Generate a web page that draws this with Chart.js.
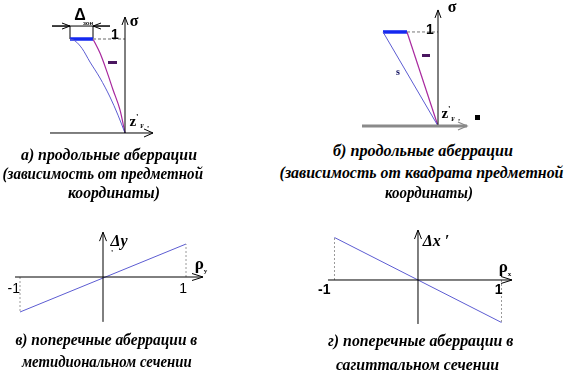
<!DOCTYPE html>
<html><head><meta charset="utf-8">
<script src="https://cdn.jsdelivr.net/npm/chart.js@4.4.1/dist/chart.umd.min.js"></script>
<style>
html,body{margin:0;padding:0;background:#fff}
#wrap{position:relative;width:571px;height:371px;overflow:hidden;background:#fff}
canvas{position:absolute}
.lb{position:absolute;transform:translate(-50%,-50%);white-space:nowrap;line-height:1;color:#000}
.cap{position:absolute;white-space:nowrap;line-height:1;font-style:italic;font-weight:bold;font-size:16px;font-family:"Liberation Serif","Times New Roman","DejaVu Serif",serif;color:#000;transform-origin:50% 50%}
.ser{font-family:"Liberation Serif","Times New Roman","DejaVu Serif",serif;font-weight:bold}
.san{font-family:"Liberation Sans",Arial,"DejaVu Sans",sans-serif}
.mark{position:absolute;background:#4a1660}
</style></head><body><div id="wrap">
<canvas id="cA" width="130" height="140" style="left:40px;top:0px"></canvas>
<canvas id="cB" width="130" height="135" style="left:350px;top:0px"></canvas>
<canvas id="cC" width="230" height="110" style="left:0px;top:222px"></canvas>
<canvas id="cD" width="240" height="110" style="left:300px;top:222px"></canvas>

<!-- panel а labels -->
<div class="lb san" style="left:80px;top:15px;font-size:16px;font-weight:bold">Δ</div>
<div class="lb san" style="left:88px;top:23px;font-size:6px;font-weight:bold">зон</div>
<div class="lb ser" style="left:134px;top:21px;font-size:16px">σ</div>
<div class="mark" style="left:108px;top:61px;width:9px;height:3px"></div>
<div class="lb ser" style="left:134px;top:121px;font-size:15px">z<span style="font-size:9px;vertical-align:6px">'</span></div>
<div class="lb ser" style="left:142px;top:126px;font-size:6px">F</div>
<div class="lb ser" style="left:148px;top:125px;font-size:7px">,</div>

<!-- panel б labels -->
<div class="lb ser" style="left:452px;top:7px;font-size:16px">σ</div>
<div class="mark" style="left:422px;top:54px;width:8px;height:3px"></div>
<div class="lb ser" style="left:398px;top:72px;font-size:10px;color:#101060">s</div>
<div class="lb ser" style="left:446px;top:113px;font-size:15px">z<span style="font-size:9px;vertical-align:6px">'</span></div>
<div class="lb ser" style="left:453px;top:119px;font-size:6px">F</div>
<div class="lb ser" style="left:459px;top:118px;font-size:7px">,</div>
<div class="mark" style="left:475px;top:115px;width:5px;height:5px;background:#000"></div>

<!-- panel в labels -->
<div class="lb ser" style="left:119px;top:241px;font-size:16px;font-style:italic">Δy</div>
<div class="lb ser" style="left:112px;top:254px;font-size:8px">'</div>
<div class="lb ser" style="left:201px;top:265px;font-size:17px">ρ<span style="font-size:7px;vertical-align:-4px">y</span></div>

<!-- panel г labels -->
<div class="lb ser" style="left:436px;top:241px;font-size:16px;font-style:italic">Δx ′</div>
<div class="lb ser" style="left:505px;top:268px;font-size:17px">ρ<span style="font-size:7px;vertical-align:-4px">x</span></div>
</div>
<script>
// ---------- DATA ----------
// Panel а: longitudinal aberration vs object coordinate (σ vs z'F)
const sigmaBlueA   = [1, 0.98, 0.90, 0.755, 0.585, 0.383, 0.19, 0];
const zBlueA       = [-0.55, -0.50, -0.43, -0.35, -0.25, -0.15, -0.07, 0];
const sigmaMagA    = [1, 0.85, 0.65, 0.46, 0.245, 0];
const zMagA        = [-0.32, -0.25, -0.18, -0.12, -0.05, 0];
// Panel б: longitudinal aberration vs squared object coordinate
const sigmaB       = [1, 0];
const zBlueB       = [-0.55, 0];
const zMagB        = [-0.31, 0];
// Panel в: transverse aberration, meridional section
const rhoC         = [-1, 1];
const deltaYC      = [-1.03, 0.97];
// Panel г: transverse aberration, sagittal section
const rhoD         = [-1, 1];
const deltaXD      = [1, -1];
// Tick labels
const rhoTicks     = [-1, 1];
const rhoTickLabels= ['-1', '1'];
const sigmaTicks   = [1];
const sigmaTickLabels = ['1'];
// Axis extents (data units)
const axisXA = [-0.75, 0.28], axisYA = [0, 1.234];
const axisXB = [-0.76, 0.29], axisYB = [0, 1.234];
const axisXC = [-1.06, 1.205], axisYC = [-1.32, 1.32];
const axisXD = [-1.078, 1.126], axisYD = [-1.035, 1.176];
const bracketY = 1.138, bracketX = [-0.73, -0.15];

// ---------- helpers ----------
const pts = (xs, ys) => xs.map((x, i) => ({x, y: ys[i]}));
const line = (xs, ys, color, width, extra) => Object.assign({
  data: pts(xs, ys), showLine: true, borderColor: color, backgroundColor: color,
  borderWidth: width, pointRadius: 0, fill: false, tension: 0
}, extra || {});

const chevrons = {
  id: 'chevrons',
  afterDatasetsDraw(chart) {
    const ctx = chart.ctx;
    chart.data.datasets.forEach((ds, i) => {
      if (!ds.arrowEnd) return;
      const el = chart.getDatasetMeta(i).data;
      const a = el[el.length - 2], b = el[el.length - 1];
      const ang = Math.atan2(b.y - a.y, b.x - a.x);
      const L = ds.arrowLen || 9, W = ds.arrowHalf || 4;
      const c = Math.cos(ang), s = Math.sin(ang);
      ctx.save();
      ctx.strokeStyle = ds.arrowColor || ds.borderColor;
      ctx.lineWidth = ds.arrowWidth || 1;
      ctx.beginPath();
      ctx.moveTo(b.x - L * c - W * s, b.y - L * s + W * c);
      ctx.lineTo(b.x, b.y);
      ctx.lineTo(b.x - L * c + W * s, b.y - L * s - W * c);
      ctx.stroke();
      ctx.restore();
    });
  }
};

const tickText = {
  id: 'tickText',
  afterDatasetsDraw(chart, args, o) {
    if (!o || !o.values) return;
    const ctx = chart.ctx, xs = chart.scales.x, ys = chart.scales.y;
    ctx.save();
    ctx.font = o.font; ctx.fillStyle = '#000';
    ctx.textAlign = o.align || 'right'; ctx.textBaseline = 'middle';
    o.values.forEach((v, i) => {
      const dx = Array.isArray(o.dx) ? o.dx[i] : o.dx;
      let px, py;
      if (o.axis === 'x') { px = xs.getPixelForValue(v) + dx; py = ys.getPixelForValue(0) + o.dy; }
      else { px = xs.getPixelForValue(0) + dx; py = ys.getPixelForValue(v) + o.dy; }
      ctx.fillText(o.labels[i], px, py);
    });
    ctx.restore();
  }
};

function make(id, xr, yr, datasets, ticks) {
  return new Chart(document.getElementById(id), {
    type: 'scatter',
    data: { datasets },
    plugins: [chevrons, tickText],
    options: {
      responsive: false, animation: false, events: [],
      layout: { padding: 0 },
      plugins: { legend: { display: false }, tooltip: { enabled: false }, tickText: ticks || {} },
      scales: {
        x: { type: 'linear', min: xr[0], max: xr[1], display: false },
        y: { type: 'linear', min: yr[0], max: yr[1], display: false }
      }
    }
  });
}

const BLUE = '#5c5cd2', MAG = '#a8289e', BAR = '#1428f0', DASH = '#9a9a9a';
const SANS = '"Liberation Sans", Arial, "DejaVu Sans", sans-serif';

// Panel а
make('cA', [-0.85, 0.45], [-0.0745, 1.415], [
  line(axisXA, [0, 0], '#000', 1, { arrowEnd: true }),
  line([0, 0], axisYA, '#000', 1, { arrowEnd: true, arrowLen: 8, arrowHalf: 3 }),
  line([zMagA[0], 0], [1, 1], DASH, 1.6, { borderDash: [3, 2] }),
  line(zBlueA, sigmaBlueA, BLUE, 1, { cubicInterpolationMode: 'monotone' }),
  line(zMagA, sigmaMagA, MAG, 1.2, { cubicInterpolationMode: 'monotone' }),
  line([zBlueA[0], zMagA[0]], [1, 1], BAR, 3.5),
  line(bracketX, [bracketY, bracketY], '#000', 1),
  line([zBlueA[0], zBlueA[0]], [1, bracketY], '#000', 1),
  line([zMagA[0], zMagA[0]], [1, bracketY], '#000', 1),
  line([bracketX[0], zBlueA[0]], [bracketY, bracketY], '#000', 1, { arrowEnd: true, arrowLen: 8, arrowHalf: 3 }),
  line([bracketX[1], zMagA[0]], [bracketY, bracketY], '#000', 1, { arrowEnd: true, arrowLen: 8, arrowHalf: 3 })
], { axis: 'y', values: sigmaTicks, labels: sigmaTickLabels, font: 'bold 14px ' + SANS, align: 'center', dx: -10, dy: -4 });

// Panel б
make('cB', [-0.88, 0.42], [-0.096, 1.34], [
  line(axisXB, [0, 0], '#8a8a8a', 3, { arrowEnd: true, arrowWidth: 1.3 }),
  line([0, 0], axisYB, '#000', 1, { arrowEnd: true, arrowLen: 8, arrowHalf: 3 }),
  line([zMagB[0], 0], [1, 1], '#777', 1, { borderDash: [3, 2] }),
  line(zBlueB, sigmaB, BLUE, 1),
  line(zMagB, sigmaB, MAG, 1.2),
  line([zBlueB[0], zMagB[0]], [1, 1], BAR, 3.5)
], { axis: 'y', values: sigmaTicks, labels: sigmaTickLabels, font: 'bold 14px ' + SANS, align: 'center', dx: -8, dy: -2 });

// Panel в
make('cC', [-1.241, 1.530], [-1.618, 1.618], [
  line(axisXC, [0, 0], '#000', 1, { arrowEnd: true, arrowLen: 11, arrowHalf: 3.5 }),
  line([0, 0], axisYC, '#000', 1, { arrowEnd: true, arrowLen: 9, arrowHalf: 3.5 }),
  line([rhoC[0], rhoC[0]], [0, deltaYC[0]], DASH, 1, { borderDash: [2, 2] }),
  line([rhoC[1], rhoC[1]], [0, deltaYC[1]], DASH, 1, { borderDash: [2, 2] }),
  line(rhoC, deltaYC, BLUE, 1)
], { axis: 'x', values: rhoTicks, labels: rhoTickLabels, font: '14px ' + SANS, align: 'right', dx: [0, 1], dy: 12 });

// Panel г
make('cD', [-1.413, 1.461], [-1.224, 1.365], [
  line(axisXD, [0, 0], '#000', 1, { arrowEnd: true, arrowLen: 11, arrowHalf: 3.5 }),
  line([0, 0], axisYD, '#000', 1, { arrowEnd: true, arrowLen: 9, arrowHalf: 3.5 }),
  line([rhoD[0], rhoD[0]], [0, deltaXD[0]], DASH, 1, { borderDash: [2, 2] }),
  line([rhoD[1], rhoD[1]], [0, deltaXD[1]], DASH, 1, { borderDash: [2, 2] }),
  line(rhoD, deltaXD, BLUE, 1)
], { axis: 'x', values: rhoTicks, labels: rhoTickLabels, font: 'bold 14px ' + SANS, align: 'right', dx: [-4, 1], dy: 10 });

// ---------- captions ----------
const captions = [
  ['а) продольные аберрации', 109, 155, 176],
  ['(зависимость от предметной', 103, 174, 201],
  ['координаты)', 114, 193, 92],
  ['б) продольные аберрации', 423, 151, 180],
  ['(зависимость от квадрата предметной', 421, 173, 284],
  ['координаты)', 429, 193, 88],
  ['в) поперечные аберрации в', 106, 340, 182],
  ['метидиональном сечении', 107, 362, 170],
  ['г) поперечные аберрации в', 420, 341, 185],
  ['сагиттальном сечении', 417, 365, 163]
];
const wrap = document.getElementById('wrap');
captions.forEach(([t, cx, cy, w]) => {
  const d = document.createElement('div');
  d.className = 'cap'; d.textContent = t;
  wrap.appendChild(d);
  const ow = d.offsetWidth, oh = d.offsetHeight;
  d.style.left = (cx - ow / 2) + 'px';
  d.style.top = (cy - oh / 2) + 'px';
  d.style.transform = 'scaleX(' + (w / ow).toFixed(3) + ')';
});
</script>
</body></html>
